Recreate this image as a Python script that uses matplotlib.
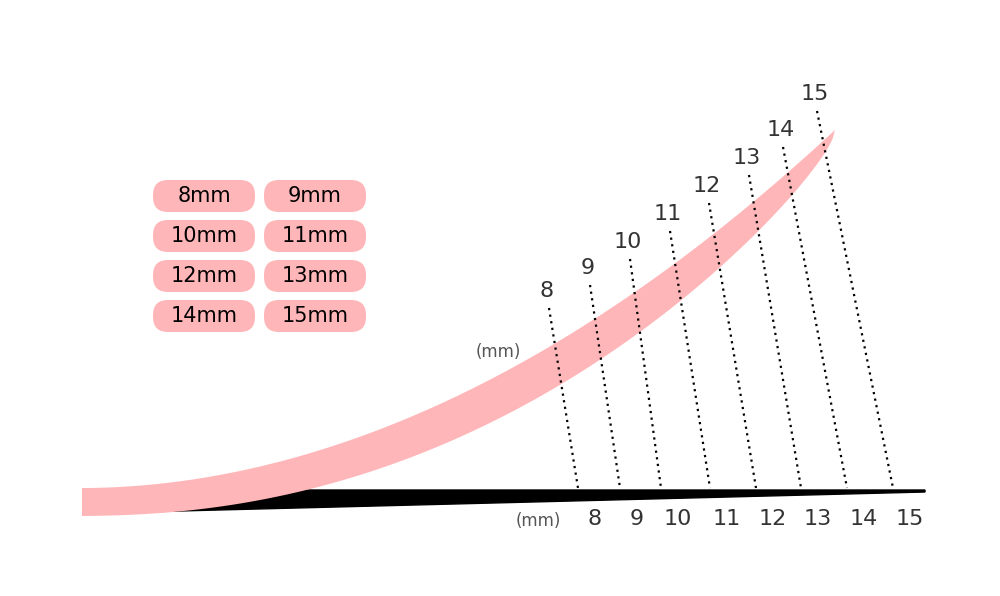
import numpy as np
import matplotlib.pyplot as plt
from matplotlib.patches import FancyBboxPatch, Polygon

# -- Data:
lengths = [8, 9, 10, 11, 12, 13, 14, 15]
bottom_x = [595, 637, 678, 727, 773, 818, 864, 910]
top_x = [547, 588, 628, 668, 707, 747, 781, 815]
top_y = [291, 268, 242, 214, 186, 158, 130, 94]
pill_labels = ['8mm', '9mm', '10mm', '11mm', '12mm', '13mm', '14mm', '15mm']

PINK = '#ffb6b9'

fig = plt.figure(figsize=(10, 5.96), dpi=100)
ax = fig.add_axes([0, 0, 1, 1])
ax.set_xlim(0, 1000)
ax.set_ylim(596, 0)
ax.axis('off')

# -- black wedge (lash base)
ax.add_patch(Polygon([[140, 512], [290, 490], [925, 490], [925, 492]],
                     closed=True, color='black', zorder=2))

# -- pink curl
t = np.linspace(0, 1, 300)
xs = 82 + (835 - 82) * t
uy = 488 - (488 - 130) * t ** 1.95
thick = (28 + 90 * t ** 1.5) * np.sqrt(1 - t)
ly = uy + thick
pts = np.vstack([np.column_stack([xs, uy]), np.column_stack([xs, ly])[::-1]])
ax.add_patch(Polygon(pts, closed=True, color=PINK, zorder=3, lw=0))

# -- dotted guides and labels
for n, bx, tx, ty in zip(lengths, bottom_x, top_x, top_y):
    ax.plot([tx + 2, bx - 17], [ty + 17, 488], color='black', ls=(0, (1, 2)),
            lw=1.6, zorder=4)
    ax.text(tx, ty, str(n), fontsize=16, color='#333333', ha='center', va='center')
    ax.text(bx, 519, str(n), fontsize=16, color='#333333', ha='center', va='center')

ax.text(498, 352, '(mm)', fontsize=12, color='#555555', ha='center', va='center')
ax.text(538, 521, '(mm)', fontsize=12, color='#555555', ha='center', va='center')

# -- pill legend
for i, lab in enumerate(pill_labels):
    cx = 204 if i % 2 == 0 else 315
    cy = 196 + 40 * (i // 2)
    ax.add_patch(FancyBboxPatch((cx - 51, cy - 16), 102, 32,
                                boxstyle='round,pad=0,rounding_size=15',
                                fc=PINK, ec='none'))
    ax.text(cx, cy, lab, fontsize=15, ha='center', va='center', color='black')

fig.savefig('out.png', dpi=100)
